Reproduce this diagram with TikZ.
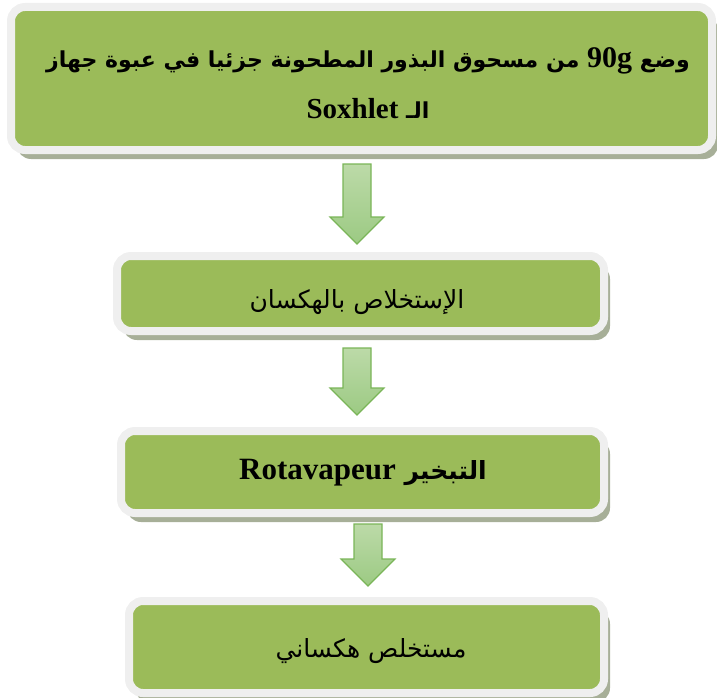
\documentclass[tikz,border=0pt]{standalone}
\usepackage{fontspec}
\setmainfont{Liberation Serif}
\newfontfamily\arabicfont[Script=Arabic]{DejaVu Sans}
\newfontfamily\latinfont{Liberation Serif}
\TeXXeTstate=1
\usetikzlibrary{shadows, calc}

\definecolor{boxgreen}{HTML}{9BBB59}
\definecolor{boxrim}{HTML}{EFEFEF}
\definecolor{boxshadow}{HTML}{A7AF98}
\definecolor{arrowtop}{HTML}{BCDAA8}
\definecolor{arrowbottom}{HTML}{9CCA83}
\definecolor{arrowline}{HTML}{7AB558}

\tikzset{
	stepbox/.style={draw=boxrim, line width=8pt, fill=boxgreen, rounded corners=14pt,
		drop shadow={shadow xshift=6pt, shadow yshift=-9pt, fill=boxshadow, opacity=1}},
	steptext/.style={text=black, align=center, inner sep=0pt},
	flowarrow/.style={draw=arrowline, line width=1.1pt, line join=miter,
		top color=arrowtop, bottom color=arrowbottom}
}

% latin word inside arabic line
\newcommand\latword[2]{\beginL{\latinfont\fontsize{#1}{#1}\selectfont #2}\endL{}}

% block arrow from shaft top to tip
\newcommand\flowarrow[2]{%
	\path[flowarrow] let \p1=(#1), \p2=(#2) in
		(\x1-14pt,\y1) -- (\x1+14pt,\y1) -- (\x1+14pt,\y2+27pt) -- (\x1+27pt,\y2+27pt)
		-- (\x1,\y2) -- (\x1-27pt,\y2+27pt) -- (\x1-14pt,\y2+27pt) -- cycle;}

\begin{document}
\begin{tikzpicture}[x=1pt, y=-1pt]
		\useasboundingbox (0,0) rectangle (717,698);
		
		% Boxes
		\node[stepbox, minimum width=701pt, minimum height=143pt] (b1) at (361.5,78.5) {};
		\node[stepbox, minimum width=487pt, minimum height=75pt] (b2) at (360.5,293.5) {};
		\node[stepbox, minimum width=483pt, minimum height=82pt] (b3) at (362.5,472) {};
		\node[stepbox, minimum width=475pt, minimum height=92pt] (b4) at (366.5,647) {};
		
		% Texts
		\node[steptext, font=\arabicfont\bfseries\fontsize{22}{51}\selectfont] (t1) at (368,83)
			{\beginR وضع \latword{30}{90g} من مسحوق البذور المطحونة جزئيا في عبوة جهاز\endR\\
			\beginR الـ \latword{29}{Soxhlet}\endR};
		\node[steptext, font=\arabicfont\fontsize{25}{30}\selectfont] (t2) at (357,302)
			{\beginR الإستخلاص بالهكسان\endR};
		\node[steptext, font=\arabicfont\bfseries\fontsize{25}{30}\selectfont] (t3) at (363,473)
			{\beginR التبخير \latword{31}{Rotavapeur}\endR};
		\node[steptext, font=\arabicfont\fontsize{25}{30}\selectfont] (t4) at (371,651)
			{\beginR مستخلص هكساني\endR};
		
		% Arrows
		\coordinate (a1s) at (357,164);
		\coordinate (a1e) at (357,244);
		\coordinate (a2s) at (357,348);
		\coordinate (a2e) at (357,415);
		\coordinate (a3s) at (368,524);
		\coordinate (a3e) at (368,586);
		\flowarrow{a1s}{a1e}
		\flowarrow{a2s}{a2e}
		\flowarrow{a3s}{a3e}
\end{tikzpicture}
\end{document}
